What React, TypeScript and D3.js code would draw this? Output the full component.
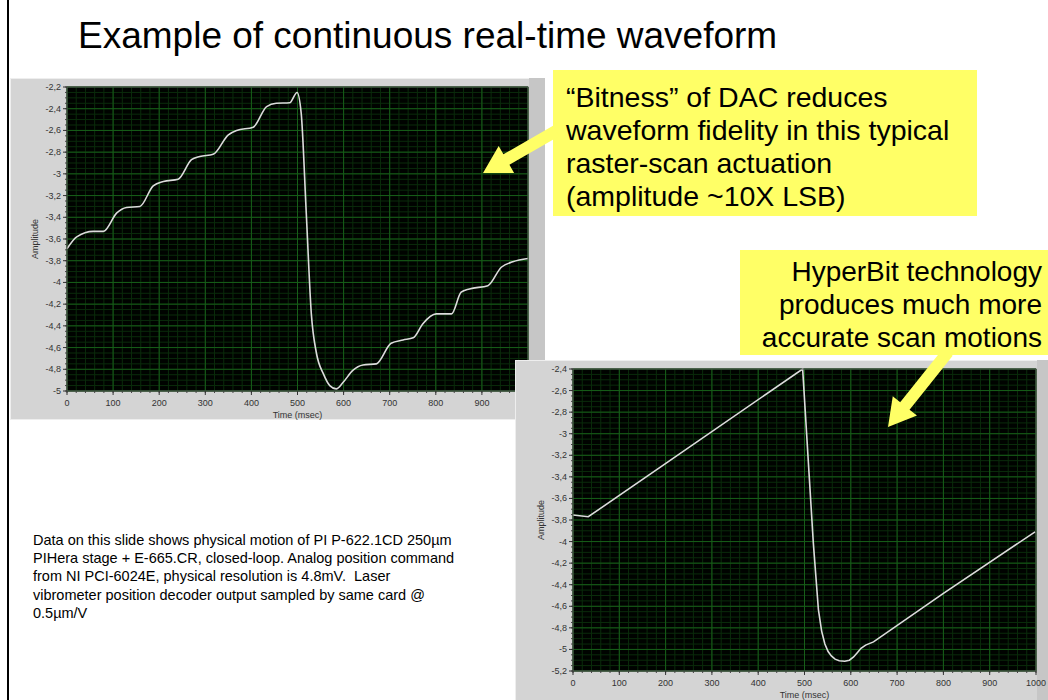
import * as d3 from "d3";

// Left graph: DAC-limited raster waveform (Time in msec, Amplitude)
const leftTime = [0, 21, 57, 79, 108, 129, 158, 187, 209, 241, 270, 288, 317, 350, 368, 404, 433, 454, 483, 499, 508, 519, 530, 541, 556, 570, 584, 599, 620, 642, 671, 703, 729, 751, 772, 801, 834, 855, 873, 913, 942, 967, 1000];
const leftAmp = [-3.69, -3.58, -3.53, -3.53, -3.36, -3.31, -3.3, -3.11, -3.07, -3.05, -2.87, -2.84, -2.82, -2.64, -2.6, -2.57, -2.38, -2.35, -2.345, -2.25, -2.44, -3.36, -4.29, -4.65, -4.84, -4.95, -4.98, -4.92, -4.81, -4.76, -4.75, -4.56, -4.53, -4.51, -4.38, -4.29, -4.29, -4.09, -4.06, -4.03, -3.86, -3.81, -3.78];

// Right graph: HyperBit waveform
const rightTime = [0, 33, 202, 496, 508, 519, 530, 537, 544, 551, 558, 566, 575, 587, 597, 606, 614, 622, 632, 649, 800, 998];
const rightAmp = [-3.754, -3.77, -3.27, -2.4, -3.24, -4.01, -4.63, -4.83, -4.95, -5.02, -5.06, -5.09, -5.105, -5.11, -5.1, -5.07, -5.03, -4.99, -4.96, -4.93, -4.48, -3.91];

const xTicks = [0, 100, 200, 300, 400, 500, 600, 700, 800, 900, 1000];
const leftYTicks = [-2.2, -2.4, -2.6, -2.8, -3, -3.2, -3.4, -3.6, -3.8, -4, -4.2, -4.4, -4.6, -4.8, -5];
const rightYTicks = [-2.4, -2.6, -2.8, -3, -3.2, -3.4, -3.6, -3.8, -4, -4.2, -4.4, -4.6, -4.8, -5, -5.2];

const title = "Example of continuous real-time waveform";
const callout1 = ["\u201cBitness\u201d of DAC reduces", "waveform fidelity in this typical", "raster-scan actuation", "(amplitude ~10X LSB)"];
const callout2 = ["HyperBit technology", "produces much more", "accurate scan motions"];
const note = [
  "Data on this slide shows physical motion of PI P-622.1CD 250\u00b5m",
  "PIHera stage + E-665.CR, closed-loop. Analog position command",
  "from NI PCI-6024E, physical resolution is 4.8mV.  Laser",
  "vibrometer position decoder output sampled by same card @",
  "0.5\u00b5m/V",
];

const YELLOW = "#ffff66";
const FONT = "'Liberation Sans', Arial, sans-serif";

const fmt = (v: number) => String(Math.round(v * 10) / 10).replace(".", ",");

type GraphProps = {
  panel: [number, number, number, number];
  plot: [number, number, number, number];
  yTicks: number[];
  time: number[];
  amp: number[];
  curve: d3.CurveFactory;
};

function Graph({ panel, plot, yTicks, time, amp, curve }: GraphProps) {
  const [px, py, pw, ph] = panel;
  const [l, t, r, b] = plot;
  const x = d3.scaleLinear().domain([0, 1000]).range([l, r]);
  const y = d3.scaleLinear().domain([d3.min(yTicks)!, d3.max(yTicks)!]).range([b, t]);

  const minorX = d3.range(0, 1000.01, 20);
  const minorY = d3.range(d3.min(yTicks)!, d3.max(yTicks)! + 0.001, 0.05);

  const line = d3
    .line<number>()
    .x((_, i) => x(time[i]))
    .y((d) => y(d))
    .curve(curve);

  return (
    <g>
      <rect x={px} y={py} width={pw} height={ph} fill="#d4d4d4" />
      <rect x={px + 0.5} y={py + 0.5} width={pw - 1} height={ph - 1} fill="none" stroke="#eeeeee" />
      <rect x={r + 1} y={py} width={px + pw - r - 1} height={ph} fill="#c6c6c6" />
      <rect x={l} y={t} width={r - l} height={b - t} fill="#000300" />
      {minorX.map((v) => (
        <line key={"mx" + v} x1={x(v)} x2={x(v)} y1={t} y2={b} stroke="#0a2c0b" strokeWidth={1} />
      ))}
      {minorY.map((v, i) => (
        <line key={"my" + i} x1={l} x2={r} y1={y(v)} y2={y(v)} stroke="#0a2c0b" strokeWidth={1} />
      ))}
      {xTicks.map((v) => (
        <line key={"gx" + v} x1={x(v)} x2={x(v)} y1={t} y2={b} stroke="#175e19" strokeWidth={1} />
      ))}
      {yTicks.map((v) => (
        <line key={"gy" + v} x1={l} x2={r} y1={y(v)} y2={y(v)} stroke="#175e19" strokeWidth={1} />
      ))}
      <path d={line(amp) ?? ""} fill="none" stroke="#dcdcdc" strokeWidth={1.6} />
      <rect x={l} y={t} width={r - l} height={b - t} fill="none" stroke="#555" strokeWidth={1} />
      {/* y axis ticks and labels */}
      {minorY.map((v, i) => (
        <line key={"ty" + i} x1={l - 2} x2={l} y1={y(v)} y2={y(v)} stroke="#444" />
      ))}
      {yTicks.map((v) => (
        <g key={"ly" + v}>
          <line x1={l - 4} x2={l} y1={y(v)} y2={y(v)} stroke="#333" />
          <text x={l - 6} y={y(v)} dy="0.33em" textAnchor="end" fontSize={9} fill="#333" fontFamily={FONT}>
            {fmt(v)}
          </text>
        </g>
      ))}
      {/* x axis ticks and labels */}
      {minorX.map((v) => (
        <line key={"tx" + v} x1={x(v)} x2={x(v)} y1={b} y2={b + 2} stroke="#444" />
      ))}
      {xTicks.map((v) => (
        <g key={"lx" + v}>
          <line x1={x(v)} x2={x(v)} y1={b} y2={b + 4} stroke="#333" />
          <text x={x(v)} y={b + 15} textAnchor="middle" fontSize={9} fill="#333" fontFamily={FONT}>
            {v}
          </text>
        </g>
      ))}
      <text x={(l + r) / 2} y={b + 27} textAnchor="middle" fontSize={9} fill="#333" fontFamily={FONT}>
        Time (msec)
      </text>
      <text
        transform={`translate(${l - 29},${(t + b) / 2}) rotate(-90)`}
        textAnchor="middle"
        fontSize={9}
        fill="#333"
        fontFamily={FONT}
      >
        Amplitude
      </text>
    </g>
  );
}

function arrow(sx: number, sy: number, tx: number, ty: number, shaft: number, headW: number, headL: number) {
  const len = Math.hypot(tx - sx, ty - sy);
  const ux = (tx - sx) / len;
  const uy = (ty - sy) / len;
  const nx = -uy;
  const ny = ux;
  const bx = tx - ux * headL;
  const by = ty - uy * headL;
  const pts = [
    [sx + (nx * shaft) / 2, sy + (ny * shaft) / 2],
    [bx + (nx * shaft) / 2, by + (ny * shaft) / 2],
    [bx + (nx * headW) / 2, by + (ny * headW) / 2],
    [tx, ty],
    [bx - (nx * headW) / 2, by - (ny * headW) / 2],
    [bx - (nx * shaft) / 2, by - (ny * shaft) / 2],
    [sx - (nx * shaft) / 2, sy - (ny * shaft) / 2],
  ];
  return pts.map((p) => p.join(",")).join(" ");
}

export default function App() {
  return (
    <svg
      width={1048}
      height={700}
      style={{ position: "absolute", left: 0, top: 0, background: "#fff" }}
      fontFamily={FONT}
    >
      <line x1={8} x2={8} y1={0} y2={700} stroke="#000" strokeWidth={2} />
      <text x={78} y={48} fontSize={37} fill="#000">
        {title}
      </text>

      <Graph
        panel={[10, 78, 535, 342]}
        plot={[67, 87, 528, 391]}
        yTicks={leftYTicks}
        time={leftTime}
        amp={leftAmp}
        curve={d3.curveMonotoneX}
      />

      <rect x={553} y={70} width={424} height={146} fill={YELLOW} />
      {callout1.map((s, i) => (
        <text key={s} x={566} y={107 + i * 33} fontSize={28.5} fill="#000">
          {s}
        </text>
      ))}

      <rect x={740} y={250} width={308} height={105} fill={YELLOW} />
      {callout2.map((s, i) => (
        <text key={s} x={1042} y={281 + i * 33} fontSize={28} textAnchor="end" fill="#000">
          {s}
        </text>
      ))}

      {note.map((s, i) => (
        <text key={s} x={33} y={545 + i * 18.2} fontSize={14.5} fill="#000" style={{ whiteSpace: "pre" }}>
          {s}
        </text>
      ))}

      <Graph
        panel={[515, 360, 540, 345]}
        plot={[573, 369, 1036, 671]}
        yTicks={rightYTicks}
        time={rightTime}
        amp={rightAmp}
        curve={d3.curveLinear}
      />

      <polygon points={arrow(556, 131, 483, 173, 12, 31, 27)} fill={YELLOW} />
      <polygon points={arrow(948, 352, 888, 427, 12, 31, 27)} fill={YELLOW} />
    </svg>
  );
}
